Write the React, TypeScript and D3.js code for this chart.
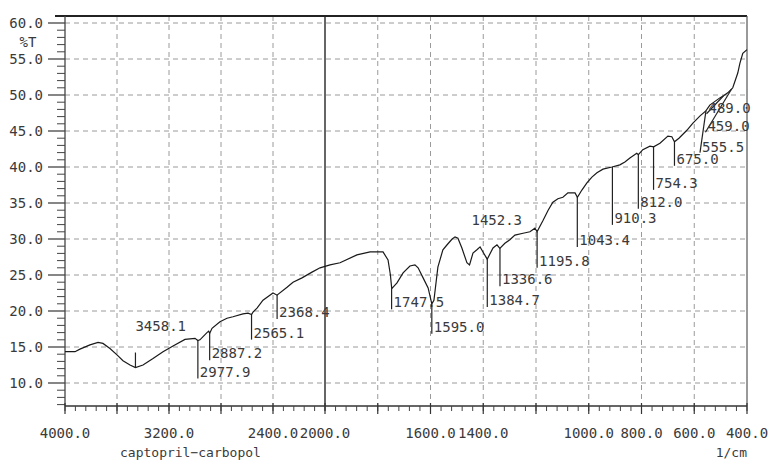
import React from "react";
import * as d3 from "d3";

// ---- data ----
const wavenumbers = [4000, 3923, 3885, 3808, 3746, 3708, 3654, 3600, 3554, 3500, 3458, 3400, 3323, 3246, 3169, 3077, 3000, 2978, 2962, 2908, 2895, 2887, 2869, 2808, 2754, 2708, 2631, 2592, 2565, 2554, 2523, 2477, 2400, 2369, 2292, 2246, 2177, 2100, 2038, 1981, 1943, 1879, 1829, 1780, 1761, 1752, 1747, 1727, 1704, 1678, 1659, 1647, 1628, 1609, 1595, 1587, 1572, 1553, 1537, 1518, 1507, 1496, 1481, 1462, 1452, 1439, 1424, 1412, 1401, 1385, 1363, 1348, 1337, 1318, 1299, 1280, 1249, 1223, 1204, 1196, 1173, 1154, 1136, 1117, 1098, 1079, 1052, 1043, 1026, 1007, 988, 969, 946, 912, 882, 863, 844, 818, 812, 795, 768, 754, 730, 700, 685, 675, 658, 628, 605, 578, 556, 541, 503, 489, 473, 459, 454, 435, 427, 416, 400];
const transmittance = [14.35, 14.35, 14.7, 15.3, 15.65, 15.5, 14.8, 13.9, 13.1, 12.5, 12.15, 12.5, 13.4, 14.35, 15.15, 16.05, 16.2, 15.9, 16.0, 17.0, 17.2, 16.9, 17.6, 18.5, 19.0, 19.2, 19.6, 19.7, 19.5, 19.85, 20.4, 21.5, 22.5, 22.2, 23.3, 24.0, 24.6, 25.4, 26.0, 26.4, 26.7, 27.8, 28.2, 28.2, 27.1, 25.0, 23.1, 23.9, 25.3, 26.25, 26.4, 26.0, 24.6, 23.2, 21.0, 21.5, 26.1, 28.5, 29.2, 30.0, 30.3, 30.1, 28.75, 26.7, 26.4, 28.05, 28.5, 28.9, 28.2, 27.2, 28.75, 29.2, 28.7, 29.4, 29.9, 30.55, 30.8, 31.0, 31.5, 31.0, 32.6, 34.0, 35.1, 35.6, 35.8, 36.4, 36.4, 35.8, 36.8, 37.8, 38.6, 39.2, 39.7, 40.0, 40.3, 40.7, 41.25, 41.9, 41.7, 42.4, 42.9, 42.8, 43.3, 44.3, 44.2, 43.5, 44.0, 45.1, 46.1, 47.1, 47.8, 48.6, 49.6, 49.9, 50.3, 50.8, 51.0, 53.05, 54.4, 55.8, 56.3];

const peakWn = [3458.1, 2977.9, 2887.2, 2565.1, 2368.4, 1747.5, 1595.0, 1452.3, 1384.7, 1336.6, 1195.8, 1043.4, 910.3, 812.0, 754.3, 675.0, 555.5, 459.0, 489.0];
// marker geometry (px): drop length from the curve, horizontal lean of marker foot, label offsets
const peakDrop = [-15, 38, 27, 25, 24, 22, 30, 0, 48, 38, 36, 50, 58, 54, 43, 24, 42, 43, 18];
const peakLean = [0, 0, 0, 0, 0, 0, 0, 0, 0, 0, 0, 0, 0, 0, 0, 0, -6, -26, -17];
const peakLabelDx = [0, 2, 2, 2, 2, 2, 2, 2, 2, 2, 2, 2, 2, 2, 2, 2, 2, 2, 2];
const peakLabelDy = [-22, -2, -2, -2, -2, -2, -2, -40, -2, -2, -2, -2, -2, -2, -2, -2, -1, -1, -1];

const xTickLabels = [4000, 3200, 2400, 2000, 1600, 1400, 1000, 800, 600, 400];
const xGrid = [3600, 3200, 2800, 2400, 1800, 1600, 1400, 1200, 1000, 800, 600];
const yTicks = [10, 15, 20, 25, 30, 35, 40, 45, 50, 55, 60];
const sampleName = "captopril\u2212carbopol";
const xUnit = "1/cm";
const yUnit = "%T";

// ---- layout ----
const W = 769, H = 461;
const LEFT = 65, RIGHT = 747, TOP = 16, BOTTOM = 406;
const FONT = "'DejaVu Sans Mono', monospace";
const TXT = "#3a3a3a";

const x = d3.scaleLinear().domain([4000, 2000, 400]).range([LEFT, 325, RIGHT]);
const y = d3.scaleLinear().domain([10, 60]).range([383, 23]);

function tAt(wn: number): number {
  for (let i = 0; i < wavenumbers.length - 1; i++) {
    const a = wavenumbers[i], b = wavenumbers[i + 1];
    if (wn <= a && wn >= b) {
      const t = (a - wn) / (a - b);
      return transmittance[i] + t * (transmittance[i + 1] - transmittance[i]);
    }
  }
  return transmittance[transmittance.length - 1];
}

export default function App() {
  const pts: [number, number][] = wavenumbers.map((w, i) => [w, transmittance[i]]);
  const line = d3.line<[number, number]>().x(d => x(d[0])).y(d => y(d[1]));

  // minor ticks
  const xMinor: number[] = [];
  for (let v = 4000; v >= 2000; v -= 80) xMinor.push(v);
  for (let v = 2000; v >= 400; v -= 40) xMinor.push(v);
  const yMinor: number[] = d3.range(7, 61, 1);

  return (
    <svg width={W} height={H} style={{ position: "absolute", left: 0, top: 0, background: "#fff" }}>
      {/* grid */}
      {yTicks.map(v => (
        <line key={"gy" + v} x1={LEFT} x2={RIGHT} y1={y(v)} y2={y(v)} stroke="#9a9a9a" strokeWidth={1} strokeDasharray="5,4" />
      ))}
      {xGrid.map(v => (
        <line key={"gx" + v} x1={x(v)} x2={x(v)} y1={TOP} y2={BOTTOM} stroke="#9a9a9a" strokeWidth={1} strokeDasharray="5,4" />
      ))}
      {/* 2000 divider */}
      <line x1={x(2000)} x2={x(2000)} y1={TOP} y2={BOTTOM} stroke="#333" strokeWidth={1.5} />
      {/* frame */}
      <line x1={55} x2={RIGHT} y1={TOP} y2={TOP} stroke="#222" strokeWidth={2} />
      <line x1={LEFT} x2={LEFT} y1={TOP} y2={BOTTOM} stroke="#444" strokeWidth={1.3} />
      <line x1={RIGHT} x2={RIGHT} y1={TOP} y2={BOTTOM} stroke="#555" strokeWidth={1.2} />
      <line x1={LEFT} x2={RIGHT} y1={BOTTOM} y2={BOTTOM} stroke="#333" strokeWidth={1.3} />
      {/* y ticks */}
      {yMinor.map(v => (
        <line key={"ym" + v} x1={v % 5 === 0 ? 48 : 57} x2={LEFT} y1={y(v)} y2={y(v)} stroke="#444" strokeWidth={v % 5 === 0 ? 1.3 : 1} />
      ))}
      {yTicks.map(v => (
        <text key={"yl" + v} x={43} y={y(v) + 5} textAnchor="end" fontFamily={FONT} fontSize={14} fill={TXT}>{v.toFixed(1)}</text>
      ))}
      <text x={28} y={47} textAnchor="middle" fontFamily={FONT} fontSize={14} fill={TXT}>{yUnit}</text>
      {/* x ticks */}
      {xMinor.map((v, i) => (
        <line key={"xm" + i} x1={x(v)} x2={x(v)} y1={BOTTOM} y2={BOTTOM + 5} stroke="#444" strokeWidth={1} />
      ))}
      {xGrid.concat([4000, 2000, 400]).map(v => (
        <line key={"xM" + v} x1={x(v)} x2={x(v)} y1={BOTTOM - 3} y2={BOTTOM + 8} stroke="#333" strokeWidth={1.2} />
      ))}
      {xTickLabels.map(v => (
        <text key={"xl" + v} x={x(v)} y={438} textAnchor="middle" fontFamily={FONT} fontSize={14} fill={TXT}>{v.toFixed(1)}</text>
      ))}
      <text x={120} y={457} fontFamily={FONT} fontSize={13} fill={TXT}>{sampleName}</text>
      <text x={747} y={457} textAnchor="end" fontFamily={FONT} fontSize={13} fill={TXT}>{xUnit}</text>
      {/* spectrum */}
      <path d={line(pts) || ""} fill="none" stroke="#1a1a1a" strokeWidth={1.2} />
      {/* peak markers */}
      {peakWn.map((w, i) => {
        const px = x(w);
        const py = y(tAt(w));
        const by = py + peakDrop[i];
        const bx = px + peakLean[i];
        return (
          <g key={"pk" + i}>
            {peakDrop[i] !== 0 && <line x1={px} x2={bx} y1={py} y2={by} stroke="#222" strokeWidth={1.2} />}
            <text x={bx + peakLabelDx[i]} y={by + peakLabelDy[i]} fontFamily={FONT} fontSize={14} fill={TXT}>{w.toFixed(1)}</text>
          </g>
        );
      })}
    </svg>
  );
}
